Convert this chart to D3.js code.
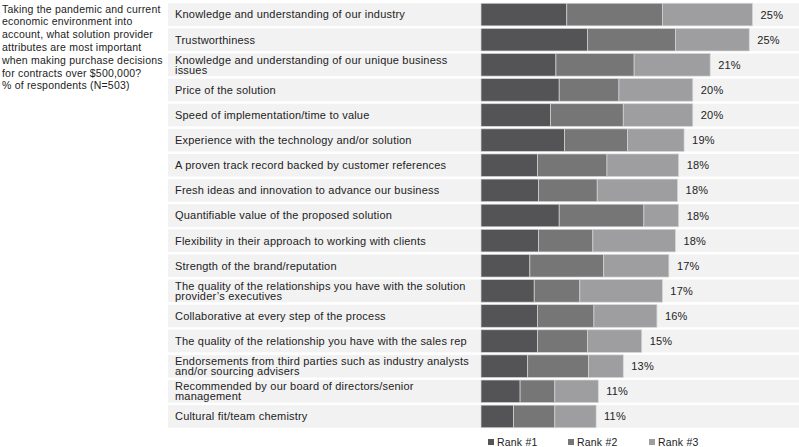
<!DOCTYPE html>
<html>
<head>
<meta charset="utf-8">
<script src="https://cdn.jsdelivr.net/npm/d3@7"></script>
<style>
  body { margin: 0; background: #fff; }
  svg { font-family: "Liberation Sans", Arial, sans-serif; }
</style>
</head>
<body>
<div id="main"></div>
<script>
const titleLines = [
  "Taking the pandemic and current",
  "economic environment into",
  "account, what solution provider",
  "attributes are most important",
  "when making purchase decisions",
  "for contracts over $500,000?",
  "% of respondents (N=503)"
];

const categories = [
  "Knowledge and understanding of our industry",
  "Trustworthiness",
  "Knowledge and understanding of our unique business|issues",
  "Price of the solution",
  "Speed of implementation/time to value",
  "Experience with the technology and/or solution",
  "A proven track record backed by customer references",
  "Fresh ideas and innovation to advance our business",
  "Quantifiable value of the proposed solution",
  "Flexibility in their approach to working with clients",
  "Strength of the brand/reputation",
  "The quality of the relationships you have with the solution|provider\u2019s executives",
  "Collaborative at every step of the process",
  "The quality of the relationship you have with the sales rep",
  "Endorsements from third parties such as industry analysts|and/or sourcing advisers",
  "Recommended by our board of directors/senior|management",
  "Cultural fit/team chemistry"
];

const rank1 = [7.9, 9.8, 6.9, 7.2, 6.4, 7.7, 5.2, 5.3, 7.2, 5.3, 4.5, 4.9, 5.2, 5.2, 4.3, 3.6, 3.0];
const rank2 = [8.8, 8.1, 7.2, 5.5, 6.7, 5.8, 6.4, 5.4, 7.8, 5.0, 6.8, 4.2, 5.2, 4.6, 5.6, 3.2, 3.8];
const rank3 = [8.3, 6.8, 7.0, 6.8, 6.4, 5.2, 6.6, 7.4, 3.2, 7.6, 6.0, 7.6, 5.8, 5.0, 3.2, 4.0, 3.8];
const totals = ["25%", "25%", "21%", "20%", "20%", "19%", "18%", "18%", "18%", "18%", "17%", "17%", "16%", "15%", "13%", "11%", "11%"];

const seriesNames = ["Rank #1", "Rank #2", "Rank #3"];
const colors = ["#545456", "#767677", "#9e9ea1"];

const width = 799;
const height = 447;

const svg = d3.select("#main").append("svg")
  .attr("width", width)
  .attr("height", height);

// question text on the left
svg.append("text")
  .attr("font-size", 10.5)
  .attr("letter-spacing", 0.2)
  .attr("fill", "#222")
  .selectAll("tspan")
  .data(titleLines)
  .join("tspan")
  .attr("x", 2)
  .attr("y", (d, i) => 12.5 + i * 12.8)
  .text((d) => d);

const y = d3.scaleBand()
  .domain(categories)
  .range([2, 429])
  .paddingInner(0.1)
  .paddingOuter(0.05);

const x = d3.scaleLinear()
  .domain([0, 25])
  .range([481, 752.5]);

const rows = categories.map((c, i) => ({
  cat: c, r1: rank1[i], r2: rank2[i], r3: rank3[i], total: totals[i]
}));

// grey background bands
svg.append("g")
  .selectAll("rect")
  .data(rows)
  .join("rect")
  .attr("x", 168)
  .attr("y", (d) => y(d.cat))
  .attr("width", width - 168)
  .attr("height", y.bandwidth())
  .attr("fill", "#f2f2f2");

// labels
const labels = svg.append("g")
  .selectAll("text")
  .data(rows)
  .join("text")
  .attr("font-size", 11)
  .attr("letter-spacing", 0.2)
  .attr("fill", "#222");

labels.each(function (d) {
  const lines = d.cat.split("|");
  const mid = y(d.cat) + y.bandwidth() / 2;
  const t = d3.select(this);
  lines.forEach((l, i) => {
    t.append("tspan")
      .attr("x", 175)
      .attr("y", mid + 3.9 + (i - (lines.length - 1) / 2) * 10)
      .text(l);
  });
});

// stacked bars
const stack = d3.stack().keys(["r1", "r2", "r3"]);
const stacked = stack(rows);

svg.append("g")
  .selectAll("g")
  .data(stacked)
  .join("g")
  .attr("fill", (d, i) => colors[i])
  .selectAll("rect")
  .data((d) => d)
  .join("rect")
  .attr("x", (d) => x(d[0]))
  .attr("y", (d) => y(d.data.cat))
  .attr("width", (d) => x(d[1]) - x(d[0]))
  .attr("height", y.bandwidth())
  .attr("stroke", "#d6d6d6")
  .attr("stroke-width", 0.7);

// value labels
svg.append("g")
  .selectAll("text")
  .data(rows)
  .join("text")
  .attr("x", (d) => x(d.r1 + d.r2 + d.r3) + 8)
  .attr("y", (d) => y(d.cat) + y.bandwidth() / 2 + 4)
  .attr("font-size", 11)
  .attr("letter-spacing", 0.2)
  .attr("fill", "#222")
  .text((d) => d.total);

// legend
const legendX = [488, 568, 649];
const legend = svg.append("g")
  .selectAll("g")
  .data(seriesNames)
  .join("g")
  .attr("transform", (d, i) => `translate(${legendX[i]}, 439)`);

legend.append("rect")
  .attr("width", 6)
  .attr("height", 6)
  .attr("fill", (d, i) => colors[i]);

legend.append("text")
  .attr("x", 9)
  .attr("y", 6.5)
  .attr("font-size", 10.5)
  .attr("letter-spacing", 0.2)
  .attr("fill", "#222")
  .text((d) => d);
</script>
</body>
</html>
